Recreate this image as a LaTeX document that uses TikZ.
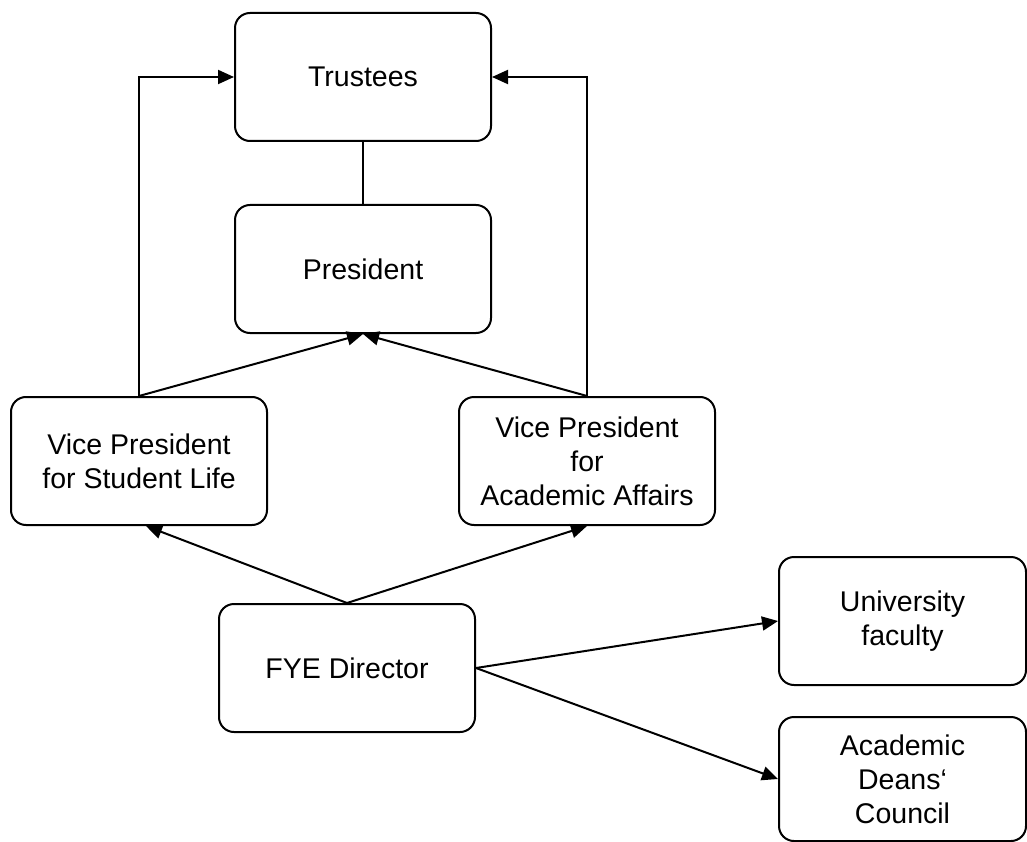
\documentclass[tikz,border=0pt]{standalone}
\usepackage{fontspec}
\setmainfont{Liberation Sans}
\usetikzlibrary{arrows.meta}
\tikzset{
  box/.style={draw, line width=2pt, rounded corners=15pt, minimum width=256pt, minimum height=128pt, inner sep=0pt, align=center, font=\fontsize{28.5}{34}\selectfont},
  arr/.style={line width=2pt, -{Triangle[length=16pt,width=14pt]}},
  ln/.style={line width=2pt}
}
\begin{document}
\begin{tikzpicture}[x=1pt,y=-1pt]
\useasboundingbox (0,0) rectangle (1027,842);
\node[box] (trustees) at (363,77) {Trustees};
\node[box] (president) at (363,269) {President};
\node[box] (vpsl) at (139,461) {Vice President\\for Student Life};
\node[box] (vpaa) at (587,461) {Vice President\\for\\Academic Affairs};
\node[box] (fye) at (347,668) {FYE Director};
\node[box, minimum width=247pt] (uf) at (902.5,621) {University\\faculty};
\node[box, minimum width=247pt, minimum height=124pt] (adc) at (902.5,779) {\raisebox{-4pt}{\parbox{200pt}{\centering Academic\\Deans‘\\Council}}};
\draw[ln] (trustees.south) -- (president.north);
\draw[arr] (vpsl.north) |- (trustees.west);
\draw[arr] (vpaa.north) |- (trustees.east);
\draw[arr] (vpsl.north) -- (president.south);
\draw[arr] (vpaa.north) -- (president.south);
\draw[arr] (fye.north) -- ([xshift=7pt]vpsl.south);
\draw[arr] (fye.north) -- (vpaa.south);
\draw[arr] (fye.east) -- (uf.west);
\draw[arr] (fye.east) -- (adc.west);
\end{tikzpicture}
\end{document}
